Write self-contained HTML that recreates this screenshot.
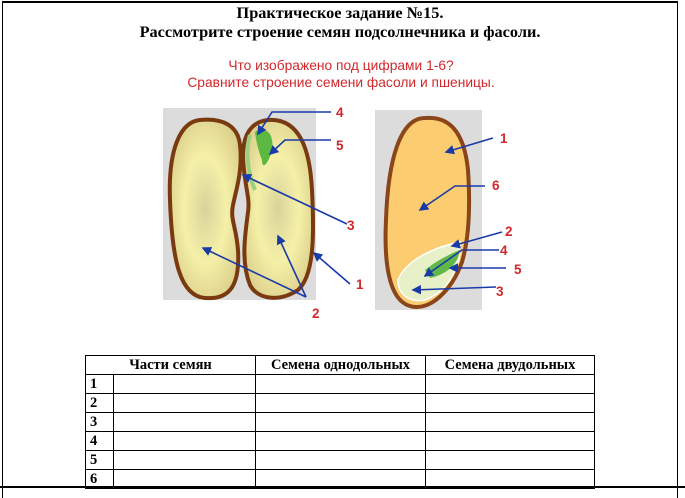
<!DOCTYPE html>
<html style="overflow:hidden;height:498px"><head><meta charset="utf-8"><style>
body{margin:0;width:685px;height:498px;background:#fff;position:relative;overflow:hidden;font-family:"Liberation Serif",serif}
.t{position:absolute;left:0;width:680px;text-align:center;font-weight:bold;font-size:16.3px;color:#000}
.r{position:absolute;left:0;width:682px;text-align:center;font-family:"Liberation Sans",sans-serif;font-size:13.8px;color:#d0282c}
table{position:absolute;left:85px;top:355px;border-collapse:collapse;font-weight:bold;font-size:14.5px}
td{border:1px solid #000;height:18px;padding:0 0 0 4px;line-height:18px}
</style></head><body>
<div style="position:absolute;left:2px;top:1px;width:674px;height:495px;border:1px solid #000;border-top:2px solid #000;border-bottom:none"></div>
<div style="position:absolute;left:0;top:486px;width:685px;height:2px;background:#000"></div>
<div class="t" style="top:3px">Практическое задание №15.</div>
<div class="t" style="top:22px">Рассмотрите строение семян подсолнечника и фасоли.</div>
<div class="r" style="top:58px">Что изображено под цифрами 1-6?</div>
<div class="r" style="top:75px">Сравните строение семени фасоли и пшеницы.</div>
<svg style="position:absolute;left:0;top:0" width="685" height="498">
<defs>
<radialGradient id="y" cx="50%" cy="50%" r="60%"><stop offset="0" stop-color="#d8d49a"/><stop offset=".5" stop-color="#f5f0a8"/><stop offset="1" stop-color="#d8cc88"/></radialGradient>
<marker id="a" markerWidth="6" markerHeight="6" refX="5" refY="3" orient="auto"><path d="M0,0L6,3L0,6z" fill="#1a3aa8"/></marker>
</defs>
<rect x="163" y="108" width="153" height="192" fill="#dcdcdc"/>
<path d="M200,120 C180,122 168,150 170,200 C172,260 180,296 205,298 C230,300 240,285 238,250 C236,225 230,220 233,205 C236,190 243,170 240,145 C238,125 222,118 200,120Z" fill="url(#y)" stroke="#7a3a10" stroke-width="4"/>
<path d="M268,120 C248,122 240,140 244,170 C246,190 250,200 248,212 C246,230 240,260 250,285 C258,300 280,302 298,290 C315,275 314,230 312,190 C310,150 300,118 268,120Z" fill="url(#y)" stroke="#7a3a10" stroke-width="4"/>
<path d="M255,132 C262,126 275,130 272,150 C268,165 262,170 262,160 C258,150 256,140 255,132Z" fill="#5cb840"/>
<path d="M250,135 C245,150 248,175 255,190" stroke="#9cd080" stroke-width="4" fill="none"/>
<rect x="375" y="110" width="107" height="200" fill="#dcdcdc"/>
<path d="M425,118 C400,118 388,160 386,220 C384,260 388,300 410,306 C430,312 452,290 462,262 C470,235 470,200 468,170 C464,130 448,116 425,118Z" fill="#fccc70" stroke="#8a4518" stroke-width="4"/>
<path d="M398,280 C405,262 430,248 460,242 C462,265 448,292 425,300 C410,303 398,295 398,280Z" fill="#e8f0c8" stroke="#fff" stroke-width="1.5"/>
<path d="M425,270 C440,258 455,252 460,250 C458,265 445,275 430,278Z" fill="#60b848"/>
<g stroke="#1a3aa8" stroke-width="1.6" fill="none" marker-end="url(#a)">
<path d="M331,112 L272,112 L258,134"/><path d="M331,140 L285,140 L270,154"/>
<path d="M347,224 L243,175"/><path d="M350,284 L314,253"/>
<path d="M306,297 L203,248"/><path d="M306,297 L278,236"/>
<path d="M493,138 L446,152"/><path d="M485,186 L455,186 L420,210"/>
<path d="M502,232 L452,246"/><path d="M499,250 L462,250 L425,276"/>
<path d="M506,268 L450,268"/><path d="M496,287 L413,290"/>
</g>
<g fill="#d0282c" font-family="Liberation Sans,sans-serif" font-size="13.5" font-weight="bold">
<text x="336" y="117">4</text><text x="336" y="150">5</text><text x="347" y="230">3</text><text x="356" y="289">1</text><text x="312" y="318">2</text>
<text x="500" y="143">1</text><text x="492" y="190">6</text><text x="505" y="236">2</text><text x="500" y="255">4</text><text x="514" y="274">5</text><text x="496" y="296">3</text>
</g>
</svg>
<table>
<tr><td colspan="2" style="text-align:center;padding:0">Части семян</td><td style="width:169px;padding:0;text-align:center">Семена однодольных</td><td style="width:168px;padding:0;text-align:center">Семена двудольных</td></tr>
<tr><td style="width:23px">1</td><td style="width:137px"></td><td></td><td></td></tr>
<tr><td>2</td><td></td><td></td><td></td></tr>
<tr><td>3</td><td></td><td></td><td></td></tr>
<tr><td>4</td><td></td><td></td><td></td></tr>
<tr><td>5</td><td></td><td></td><td></td></tr>
<tr><td>6</td><td></td><td></td><td></td></tr>
</table>
</body></html>
